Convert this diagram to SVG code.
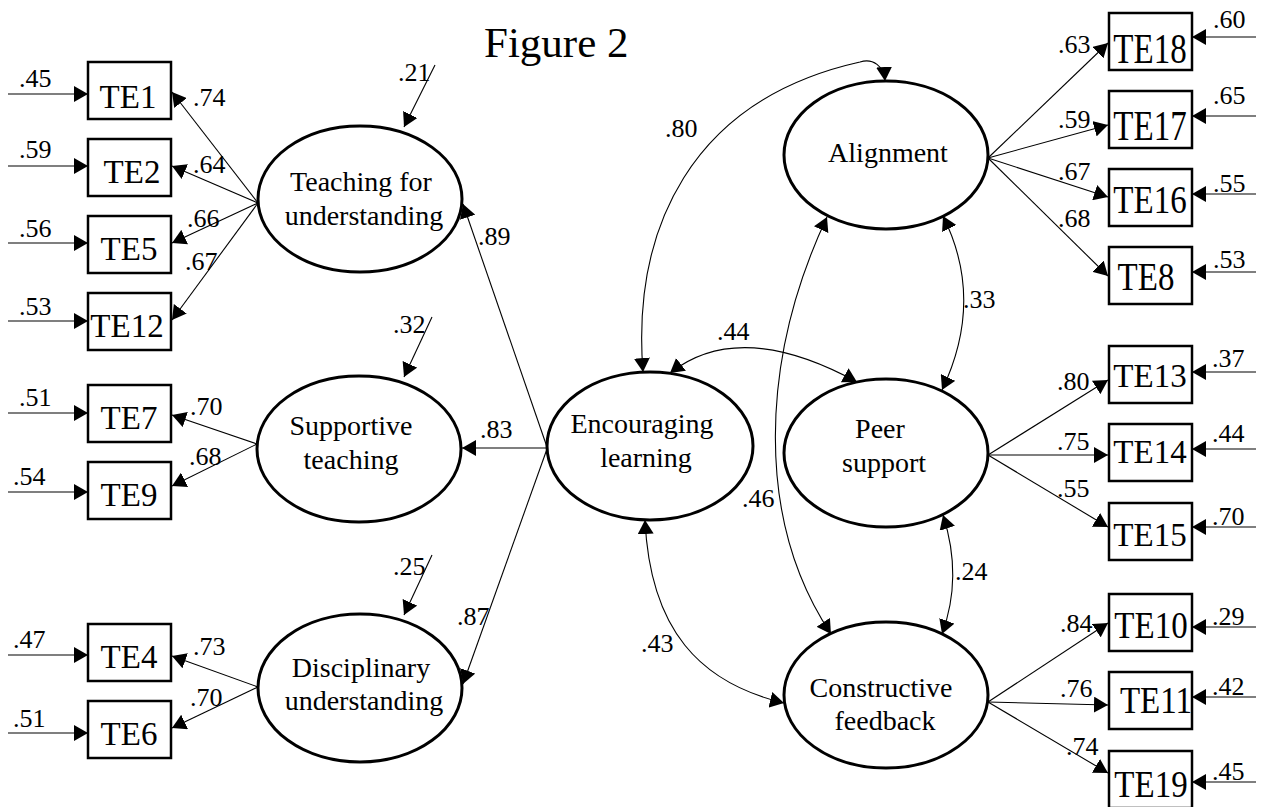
<svg xmlns="http://www.w3.org/2000/svg" width="1261" height="807" viewBox="0 0 1261 807">
<defs>
<marker id="ah" viewBox="0 0 14 16" refX="14" refY="8" markerWidth="14" markerHeight="16" markerUnits="userSpaceOnUse" orient="auto-start-reverse"><path d="M0,0 L14,8 L0,16 z" fill="#000"/></marker>
<style>
text{font-family:"Liberation Serif","Times New Roman",serif;fill:#000}
.t{font-size:43px}
.n{font-size:26px}
.b{font-size:33px;text-anchor:middle}
.e{font-size:28px;text-anchor:middle}
.box{fill:#fff;stroke:#000;stroke-width:2.5}
ellipse{fill:#fff;stroke:#000;stroke-width:3}
.c line,.c path{stroke:#000;stroke-width:1.1;fill:none;marker-end:url(#ah)}
.c .d{marker-start:url(#ah)}
</style>
</defs>
<rect width="1261" height="807" fill="#fff"/>
<text class="t" x="484" y="57">Figure 2</text>

<g class="c" id="connectors">
<line x1="8" y1="94" x2="88" y2="94"/>
<line x1="8" y1="166" x2="88" y2="166"/>
<line x1="8" y1="243" x2="88" y2="243"/>
<line x1="8" y1="321" x2="88" y2="321"/>
<line x1="8" y1="413" x2="88" y2="413"/>
<line x1="8" y1="492" x2="88" y2="492"/>
<line x1="8" y1="655" x2="88" y2="655"/>
<line x1="8" y1="733" x2="88" y2="733"/>
<line x1="1256" y1="37" x2="1192" y2="37"/>
<line x1="1256" y1="116" x2="1192" y2="116"/>
<line x1="1256" y1="194" x2="1192" y2="194"/>
<line x1="1256" y1="272" x2="1192" y2="272"/>
<line x1="1256" y1="372" x2="1192" y2="372"/>
<line x1="1256" y1="449" x2="1192" y2="449"/>
<line x1="1256" y1="527" x2="1192" y2="527"/>
<line x1="1256" y1="627" x2="1192" y2="627"/>
<line x1="1256" y1="697" x2="1192" y2="697"/>
<line x1="1256" y1="782" x2="1192" y2="782"/>
<line x1="435" y1="65" x2="404" y2="127"/>
<line x1="432" y1="317" x2="404" y2="377"/>
<line x1="432" y1="555" x2="404" y2="615"/>
<line x1="258" y1="203" x2="172" y2="92"/>
<line x1="258" y1="203" x2="172" y2="166"/>
<line x1="258" y1="203" x2="172" y2="243"/>
<line x1="258" y1="203" x2="172" y2="320"/>
<line x1="257" y1="444" x2="172" y2="415"/>
<line x1="257" y1="444" x2="172" y2="486"/>
<line x1="258" y1="687" x2="172" y2="656"/>
<line x1="258" y1="687" x2="172" y2="728"/>
<line x1="547" y1="447" x2="463" y2="204"/>
<line x1="547" y1="448" x2="462" y2="448"/>
<line x1="547" y1="449" x2="463" y2="684"/>
<line x1="988" y1="158" x2="1108" y2="43"/>
<line x1="988" y1="158" x2="1108" y2="125"/>
<line x1="988" y1="158" x2="1108" y2="197"/>
<line x1="988" y1="158" x2="1108" y2="276"/>
<line x1="988" y1="455" x2="1108" y2="380"/>
<line x1="988" y1="455" x2="1108" y2="455"/>
<line x1="988" y1="455" x2="1108" y2="527"/>
<line x1="988" y1="702" x2="1108" y2="623"/>
<line x1="988" y1="702" x2="1108" y2="705"/>
<line x1="988" y1="702" x2="1108" y2="773"/>
<path class="d" d="M643,372 C632,230 690,100 860,62 C873,58 884,66 885,81"/>
<path class="d" d="M670,373 Q740,318 857,382"/>
<path class="d" d="M645,520 C650,630 700,683 784,703"/>
<path class="d" d="M827,217 C760,360 755,520 831,634"/>
<path class="d" d="M943,216 Q985,300 942,390"/>
<path class="d" d="M943,515 Q963,577 942,634"/>
</g>

<g id="TE1"><rect class="box" x="88" y="62" width="83" height="57"/><text class="b" x="128" y="108">TE1</text></g>
<g id="TE2"><rect class="box" x="88" y="139" width="83" height="57"/><text class="b" x="132" y="183">TE2</text></g>
<g id="TE5"><rect class="box" x="88" y="216" width="83" height="57"/><text class="b" x="129" y="260">TE5</text></g>
<g id="TE12"><rect class="box" x="88" y="293" width="83" height="57"/><text class="b" x="127" y="337">TE12</text></g>
<g id="TE7"><rect class="box" x="88" y="385" width="83" height="57"/><text class="b" x="129" y="429">TE7</text></g>
<g id="TE9"><rect class="box" x="88" y="462" width="83" height="57"/><text class="b" x="129" y="506">TE9</text></g>
<g id="TE4"><rect class="box" x="88" y="624" width="83" height="57"/><text class="b" x="129" y="668">TE4</text></g>
<g id="TE6"><rect class="box" x="88" y="701" width="83" height="57"/><text class="b" x="129" y="745">TE6</text></g>

<g id="TE18"><rect class="box" x="1109" y="13" width="83" height="57"/><text class="b" transform="translate(1150,63) scale(1,1.3)">TE18</text></g>
<g id="TE17"><rect class="box" x="1109" y="91" width="83" height="57"/><text class="b" transform="translate(1150,140) scale(1,1.3)">TE17</text></g>
<g id="TE16"><rect class="box" x="1109" y="169" width="83" height="57"/><text class="b" transform="translate(1150,213) scale(1,1.2)">TE16</text></g>
<g id="TE8"><rect class="box" x="1109" y="247" width="83" height="57"/><text class="b" transform="translate(1146,290) scale(1,1.2)">TE8</text></g>
<g id="TE13"><rect class="box" x="1109" y="346" width="83" height="57"/><text class="b" x="1150" y="387">TE13</text></g>
<g id="TE14"><rect class="box" x="1109" y="424" width="83" height="57"/><text class="b" x="1150" y="463">TE14</text></g>
<g id="TE15"><rect class="box" x="1109" y="503" width="83" height="57"/><text class="b" x="1150" y="546">TE15</text></g>
<g id="TE10"><rect class="box" x="1109" y="594" width="83" height="57"/><text class="b" transform="translate(1151,638) scale(1,1.15)">TE10</text></g>
<g id="TE11"><rect class="box" x="1109" y="672" width="83" height="57"/><text class="b" transform="translate(1156,713) scale(1,1.15)">TE11</text></g>
<g id="TE19"><rect class="box" x="1109" y="751" width="83" height="57"/><text class="b" transform="translate(1151,797) scale(1,1.15)">TE19</text></g>

<g id="teaching"><ellipse cx="360" cy="199" rx="102" ry="73"/><text class="e" x="361" y="191">Teaching for</text><text class="e" x="364" y="225">understanding</text></g>
<g id="supportive"><ellipse cx="359" cy="449" rx="102" ry="73"/><text class="e" x="351" y="435">Supportive</text><text class="e" x="351" y="469">teaching</text></g>
<g id="disciplinary"><ellipse cx="360" cy="688" rx="102" ry="74"/><text class="e" x="361" y="677">Disciplinary</text><text class="e" x="364" y="710">understanding</text></g>
<g id="encouraging"><ellipse cx="650" cy="446" rx="103" ry="74"/><text class="e" x="642" y="433">Encouraging</text><text class="e" x="646" y="467">learning</text></g>
<g id="alignment"><ellipse cx="886" cy="155" rx="102" ry="74"/><text class="e" x="888" y="162">Alignment</text></g>
<g id="peer"><ellipse cx="886" cy="453" rx="102" ry="74"/><text class="e" x="880" y="438">Peer</text><text class="e" x="884" y="472">support</text></g>
<g id="constructive"><ellipse cx="886" cy="695" rx="102" ry="73"/><text class="e" x="881" y="697">Constructive</text><text class="e" x="885" y="730">feedback</text></g>

<g id="labels">
<text class="n" x="19" y="87">.45</text>
<text class="n" x="19" y="158">.59</text>
<text class="n" x="19" y="237">.56</text>
<text class="n" x="19" y="315">.53</text>
<text class="n" x="19" y="406">.51</text>
<text class="n" x="13" y="485">.54</text>
<text class="n" x="13" y="648">.47</text>
<text class="n" x="13" y="727">.51</text>
<text class="n" x="193" y="106">.74</text>
<text class="n" x="193" y="173">.64</text>
<text class="n" x="187" y="227">.66</text>
<text class="n" x="185" y="270">.67</text>
<text class="n" x="190" y="415">.70</text>
<text class="n" x="189" y="465">.68</text>
<text class="n" x="193" y="655">.73</text>
<text class="n" x="190" y="706">.70</text>
<text class="n" x="398" y="81">.21</text>
<text class="n" x="393" y="333">.32</text>
<text class="n" x="393" y="575">.25</text>
<text class="n" x="478" y="245">.89</text>
<text class="n" x="480" y="438">.83</text>
<text class="n" x="457" y="625">.87</text>
<text class="n" x="665" y="137">.80</text>
<text class="n" x="717" y="340">.44</text>
<text class="n" x="742" y="507">.46</text>
<text class="n" x="641" y="652">.43</text>
<text class="n" x="963" y="308">.33</text>
<text class="n" x="955" y="580">.24</text>
<text class="n" x="1058" y="53">.63</text>
<text class="n" x="1058" y="128">.59</text>
<text class="n" x="1058" y="180">.67</text>
<text class="n" x="1058" y="227">.68</text>
<text class="n" x="1057" y="390">.80</text>
<text class="n" x="1057" y="450">.75</text>
<text class="n" x="1057" y="497">.55</text>
<text class="n" x="1060" y="632">.84</text>
<text class="n" x="1060" y="697">.76</text>
<text class="n" x="1066" y="755">.74</text>
<text class="n" x="1213" y="28">.60</text>
<text class="n" x="1213" y="104">.65</text>
<text class="n" x="1213" y="192">.55</text>
<text class="n" x="1213" y="268">.53</text>
<text class="n" x="1212" y="367">.37</text>
<text class="n" x="1212" y="442">.44</text>
<text class="n" x="1212" y="525">.70</text>
<text class="n" x="1212" y="625">.29</text>
<text class="n" x="1212" y="695">.42</text>
<text class="n" x="1212" y="780">.45</text>
</g>
</svg>
